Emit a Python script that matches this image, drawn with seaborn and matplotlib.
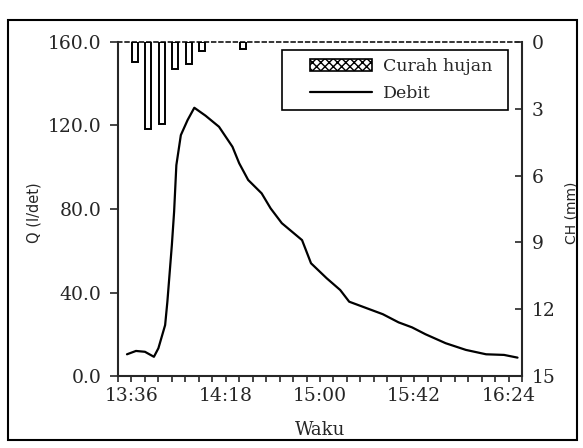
import matplotlib
matplotlib.use("Agg")
import matplotlib.pyplot as plt
from matplotlib.patches import Rectangle, Patch
from matplotlib.lines import Line2D
import seaborn as sns
import pandas as pd
import numpy as np

# ---- data ----
debit_time = ["13:34", "13:38", "13:42", "13:46", "13:48", "13:51", "13:52", "13:54",
              "13:55", "13:56", "13:58", "14:01", "14:04", "14:09", "14:15", "14:21",
              "14:24", "14:28", "14:34", "14:38", "14:43", "14:52", "14:56", "15:03",
              "15:09", "15:13", "15:21", "15:28", "15:35", "15:41", "15:47", "15:56",
              "16:05", "16:14", "16:22", "16:28"]
debit_q = [10.4, 12.0, 11.6, 9.2, 13.3, 24.4, 35.6, 62.8,
           78.7, 101.0, 115.4, 122.6, 128.5, 124.7, 119.4, 109.8,
           101.9, 93.9, 87.5, 80.3, 73.2, 65.1, 54.0, 46.8,
           41.2, 35.6, 32.4, 29.6, 25.7, 23.3, 20.0, 15.7,
           12.5, 10.4, 10.1, 8.8]

rain_time = ["13:37:30", "13:43:30", "13:49:30", "13:55:30", "14:01:30", "14:07:30", "14:25:30"]
rain_mm = [0.9, 3.9, 3.7, 1.2, 1.0, 0.4, 0.3]

tick_labels = ["13:36", "14:18", "15:00", "15:42", "16:24"]
q_ticks = [0, 40, 80, 120, 160]
ch_ticks = [0, 3, 6, 9, 12, 15]

def to_min(s):
    parts = [int(p) for p in s.split(":")]
    while len(parts) < 3:
        parts.append(0)
    return parts[0] * 60 + parts[1] + parts[2] / 60.0

T0 = to_min("13:30")
T1 = to_min("16:30")

df_q = pd.DataFrame({"t": [to_min(s) for s in debit_time], "q": debit_q})
df_r = pd.DataFrame({"t": [to_min(s) for s in rain_time], "ch": rain_mm})

# ---- style ----
sns.set_style("ticks")
plt.rcParams["font.family"] = ["DejaVu Serif"]

W, H = 583, 448
fig = plt.figure(figsize=(W / 100, H / 100), dpi=100)
ax = fig.add_axes([118 / W, 1 - 376 / H, (522 - 118) / W, (376 - 42) / H])
ax2 = ax.twinx()

# debit line
sns.lineplot(data=df_q, x="t", y="q", ax=ax, color="black", linewidth=1.6)

# rainfall bars (hanging from top)
sns.barplot(data=df_r, x="t", y="ch", ax=ax2, native_scale=True, width=0.45,
            color="white", edgecolor="black", linewidth=1.4, errorbar=None)

ax.set_xlim(T0, T1)
ax2.set_xlim(T0, T1)
ax.set_ylim(0, 160)
ax2.set_ylim(15, 0)

# x ticks
ax.set_xticks([to_min(s) for s in tick_labels])
ax.set_xticklabels(tick_labels)
ax.set_xticks(np.arange(T0, T1 + 0.1, 6), minor=True)
ax.tick_params(axis="x", which="both", direction="out", length=4, width=1.2,
               labelsize=13.5, pad=4)

# y ticks
ax.set_yticks(q_ticks)
ax.set_yticklabels([f"{v:.1f}" for v in q_ticks])
ax.tick_params(axis="y", direction="out", length=6, width=1.2, labelsize=13.5, pad=6)
ax2.set_yticks(ch_ticks)
ax2.set_yticklabels([str(v) for v in ch_ticks])
ax2.tick_params(axis="y", direction="in", length=5, width=1.2, labelsize=13.5, pad=7)
ax2.tick_params(axis="x", bottom=False, labelbottom=False)

# spines
for s in ["left", "bottom"]:
    ax.spines[s].set_linewidth(1.5)
ax.spines["right"].set_visible(False)
ax.spines["top"].set_linewidth(1.3)
ax.spines["top"].set_linestyle((0, (2, 2)))
for s in ["top", "left", "bottom"]:
    ax2.spines[s].set_visible(False)
ax2.spines["right"].set_visible(True)
ax2.spines["right"].set_linewidth(1.5)

# labels
ax.set_xlabel("Waku", fontsize=13)
ax.xaxis.set_label_coords(0.5, -0.135)
ax.set_ylabel("Q (l/det)", fontsize=10.5, family=["DejaVu Sans"])
ax.yaxis.set_label_coords(-0.19, 0.49)
ax2.set_ylabel("CH (mm)", fontsize=10, family=["DejaVu Sans"])
ax2.yaxis.set_label_coords(1.106, 0.49)

# legend (entries) and its box
handles = [Patch(facecolor="white", edgecolor="black", hatch="xxxx", linewidth=1.2),
           Line2D([0], [0], color="black", linewidth=1.6)]
leg = ax2.legend(handles, ["Curah hujan", "Debit"], loc="upper left",
                 bbox_to_anchor=(0.475, 0.952), borderaxespad=0, borderpad=0,
                 fontsize=12.5, handlelength=3.6, handletextpad=0.6,
                 labelspacing=0.58, frameon=False)
ax2.add_patch(Rectangle((0.406, 0.796), 0.965 - 0.406, 0.976 - 0.796,
                        transform=ax2.transAxes, fill=False, edgecolor="black",
                        linewidth=1.2, zorder=5))

# outer border
fig.patches.append(Rectangle((8 / W, 1 - 440 / H), (577 - 8) / W, (440 - 20) / H,
                             transform=fig.transFigure, fill=False,
                             edgecolor="black", linewidth=1.5))

fig.savefig("out.png", dpi=100)
